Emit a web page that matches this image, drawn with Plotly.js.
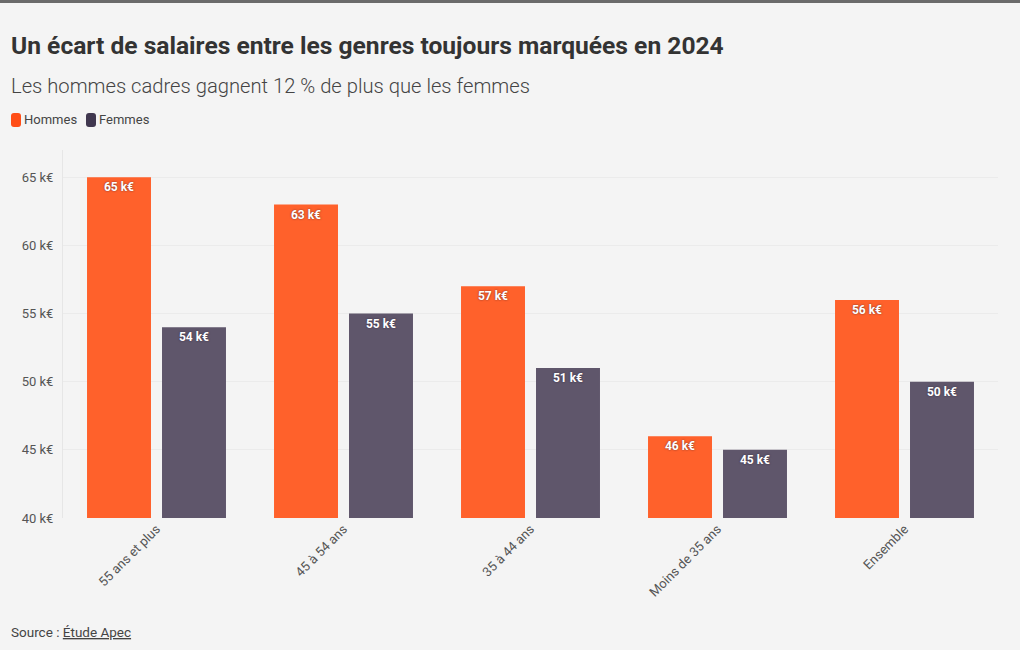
<!DOCTYPE html>
<html>
<head>
<meta charset="utf-8">
<script src="https://cdn.plot.ly/plotly-3.0.1.min.js"></script>
<style>
html,body{margin:0;padding:0;background:#f4f4f4;}
#topbar{position:absolute;left:0;top:0;width:1020px;height:3px;background:#6b6b6b;z-index:10;}
#chart{width:1020px;height:650px;}
</style>
</head>
<body>
<div id="topbar"></div>
<div id="chart"></div>
<script>
const categories = ["55 ans et plus", "45 à 54 ans", "35 à 44 ans", "Moins de 35 ans", "Ensemble"];
const hommes = [65, 63, 57, 46, 56];
const femmes = [54, 55, 51, 45, 50];
const tickVals = [40, 45, 50, 55, 60, 65];
const tickText = ["40 k€", "45 k€", "50 k€", "55 k€", "60 k€", "65 k€"];
const seriesNames = ["Hommes", "Femmes"];

const FONT = "Roboto, 'Noto Sans', sans-serif";
const colH = "#ff612b";
const colF = "#5f566b";
const legH = "#ff4d17";
const legF = "#40374f";

const mk = (name, vals, col) => ({
  type: "bar",
  name: name,
  x: categories,
  y: vals,
  text: vals.map(v => v + " k€"),
  textposition: "inside",
  insidetextanchor: "end",
  textangle: 0,
  textfont: {family: FONT, size: 12, color: "#ffffff", weight: 700,
             shadow: "0px 0px 2px rgba(40,30,50,0.7)"},
  marker: {color: col, line: {width: 0}},
  hoverinfo: "none",
  cliponaxis: false
});

const data = [mk(seriesNames[0], hommes, colH), mk(seriesNames[1], femmes, colF)];

// pixel helpers for paper coordinates (plot area: x 63..998, y 150..518)
const PL = 63, PW = 935, PT = 150, PH = 368;
const px = x => (x - PL) / PW;
const py = y => 1 - (y - PT) / PH;

function roundRect(x0, y0, x1, y1, r) {
  const X = v => px(v), Y = v => py(v);
  return `M ${X(x0+r)},${Y(y0)} L ${X(x1-r)},${Y(y0)} Q ${X(x1)},${Y(y0)} ${X(x1)},${Y(y0+r)} ` +
         `L ${X(x1)},${Y(y1-r)} Q ${X(x1)},${Y(y1)} ${X(x1-r)},${Y(y1)} L ${X(x0+r)},${Y(y1)} ` +
         `Q ${X(x0)},${Y(y1)} ${X(x0)},${Y(y1-r)} L ${X(x0)},${Y(y0+r)} Q ${X(x0)},${Y(y0)} ${X(x0+r)},${Y(y0)} Z`;
}

const layout = {
  width: 1020, height: 650,
  paper_bgcolor: "#f4f4f4",
  plot_bgcolor: "#f4f4f4",
  font: {family: FONT, color: "#444"},
  margin: {l: PL, r: 22, t: PT, b: 132},
  barmode: "group",
  bargap: 0.198,
  bargroupgap: 0.147,
  showlegend: false,
  xaxis: {
    type: "category",
    tickangle: -45,
    tickfont: {family: FONT, size: 13, color: "#555"},
    showgrid: false, zeroline: false, showline: false, ticks: ""
  },
  yaxis: {
    range: [40, 67],
    tickvals: tickVals, ticktext: tickText,
    tickfont: {family: FONT, size: 13, color: "#555"},
    showgrid: true, gridcolor: "#ebebeb", gridwidth: 1,
    zeroline: false, showline: true, linecolor: "#e6e6e6", linewidth: 1,
    ticks: "", ticklen: 0, ticklabelstandoff: 6
  },
  shapes: [
    {type: "path", xref: "paper", yref: "paper", path: roundRect(11, 113, 21, 127, 3),
     fillcolor: legH, line: {width: 0}},
    {type: "path", xref: "paper", yref: "paper", path: roundRect(86, 113, 96, 127, 3),
     fillcolor: legF, line: {width: 0}}
  ],
  annotations: [
    {text: "<b>Un écart de salaires entre les genres toujours marquées en 2024</b>",
     xref: "paper", yref: "paper", x: px(9), y: py(45), xanchor: "left", yanchor: "middle",
     showarrow: false, font: {family: FONT, size: 24.6, color: "#333"}},
    {text: "Les hommes cadres gagnent 12 % de plus que les femmes",
     xref: "paper", yref: "paper", x: px(9), y: py(86), xanchor: "left", yanchor: "middle",
     showarrow: false, font: {family: FONT, size: 20.2, color: "#444", weight: 300}},
    {text: seriesNames[0],
     xref: "paper", yref: "paper", x: px(22), y: py(120), xanchor: "left", yanchor: "middle",
     showarrow: false, font: {family: FONT, size: 13, color: "#444"}},
    {text: seriesNames[1],
     xref: "paper", yref: "paper", x: px(97), y: py(120), xanchor: "left", yanchor: "middle",
     showarrow: false, font: {family: FONT, size: 13, color: "#444"}},
    {text: "Source : <u>Étude Apec</u>",
     xref: "paper", yref: "paper", x: px(9), y: py(632), xanchor: "left", yanchor: "middle",
     showarrow: false, font: {family: FONT, size: 13.5, color: "#444"}}
  ]
};

Plotly.newPlot("chart", data, layout, {displayModeBar: false, staticPlot: true});
</script>
</body>
</html>
